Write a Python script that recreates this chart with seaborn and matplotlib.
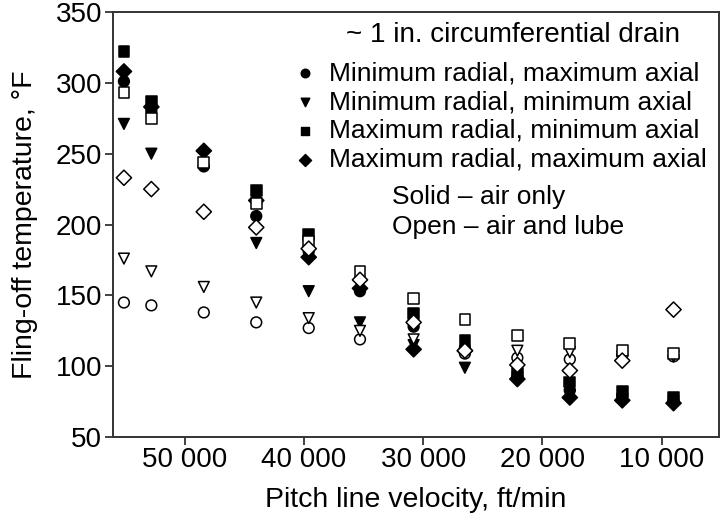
import numpy as np
import pandas as pd
import matplotlib
matplotlib.use("Agg")
from matplotlib import pyplot as plt
from matplotlib.ticker import FuncFormatter
import seaborn as sns

nan = np.nan

# pitch line velocity, ft/min
velocity = [55100, 52800, 48400, 44000, 39600, 35300,
            30800, 26500, 22100, 17700, 13300, 9000]

configs = ["Minimum radial, maximum axial",
           "Minimum radial, minimum axial",
           "Maximum radial, minimum axial",
           "Maximum radial, maximum axial"]
config_markers = ["o", "v", "s", "D"]

# solid - air only, fling-off temperature in deg F
air_only = [
    [301, 280, 241, 206, 181, 153, 128, 113, 93, 83, 79, 76],
    [271, 250, nan, 187, 153, 131, 115, 99, 92, 80, 77, 75],
    [322, 287, nan, 224, 193, nan, 137, 118, 95, 89, 82, 78],
    [308, 283, 252, 217, 177, 155, 112, 111, 91, 78, 76, 74],
]
# open - air and lube
air_lube = [
    [145, 143, 138, 131, 127, 119, nan, 109, 106, 105, 108, 107],
    [176, 167, 156, 145, 134, 125, 119, nan, 111, 110, 107, 107],
    [293, 275, 244, 215, 188, 167, 148, 133, 122, 116, 111, 109],
    [233, 225, 209, 198, 183, 161, 131, 111, 101, 97, 104, 140],
]

rows = []
for mode, table in [("air", air_only), ("lube", air_lube)]:
    for config, temps in zip(configs, table):
        for v, t in zip(velocity, temps):
            rows.append({"velocity": v, "temp": t, "config": config, "mode": mode})
df = pd.DataFrame(rows).dropna()

sns.set_style("ticks")
plt.rcParams["font.family"] = ["Liberation Sans", "DejaVu Sans"]
plt.rcParams["text.color"] = "black"
plt.rcParams["axes.labelcolor"] = "black"
plt.rcParams["xtick.labelcolor"] = "black"
plt.rcParams["ytick.labelcolor"] = "black"

fig = plt.figure(figsize=(7.21, 5.18), dpi=100)
ax = fig.add_axes([0.157, 0.156, 0.84, 0.821])

markers = dict(zip(configs, config_markers))
for mode, face in [("air", "black"), ("lube", "white")]:
    sub = df[df["mode"] == mode]
    sns.scatterplot(data=sub, x="velocity", y="temp", style="config",
                    style_order=configs, markers=markers, color="black",
                    facecolor=face, edgecolor="black", linewidth=1.1,
                    s=60, legend=False, ax=ax, zorder=3)

ax.set_xlim(56000, 5200)
ax.set_ylim(50, 350)
ax.set_xticks([50000, 40000, 30000, 20000, 10000])
ax.set_yticks(range(50, 351, 50))
ax.xaxis.set_major_formatter(FuncFormatter(lambda x, p: f"{int(x):,}".replace(",", " ")))

for side in ["top", "right", "left", "bottom"]:
    ax.spines[side].set_visible(True)
    ax.spines[side].set_linewidth(1.4)
    ax.spines[side].set_color("#333333")
ax.tick_params(direction="out", length=6, width=1.3, color="#333333",
               pad=2, labelsize=20)
ax.tick_params(axis="x", pad=1)

ax.set_xlabel("Pitch line velocity, ft/min", fontsize=20.5, labelpad=10)
ax.set_ylabel("Fling-off temperature, °F", fontsize=20.5, labelpad=13)

# legend block, drawn by hand
ax.text(0.66, 0.946, "~ 1 in. circumferential drain", transform=ax.transAxes,
        fontsize=20, ha="center", va="center")
entry_y = [0.856, 0.788, 0.72, 0.652]
for config, m, y in zip(configs, config_markers, entry_y):
    ax.scatter([0.317], [y], marker=m, s=38, color="black",
               transform=ax.transAxes, clip_on=False)
    ax.text(0.356, y, config, transform=ax.transAxes,
            fontsize=19, ha="left", va="center")

ax.text(0.46, 0.565, "Solid – air only", transform=ax.transAxes,
        fontsize=19, va="center", ha="left")
ax.text(0.46, 0.494, "Open – air and lube", transform=ax.transAxes,
        fontsize=19, va="center", ha="left")

fig.savefig("out.png", dpi=100)
